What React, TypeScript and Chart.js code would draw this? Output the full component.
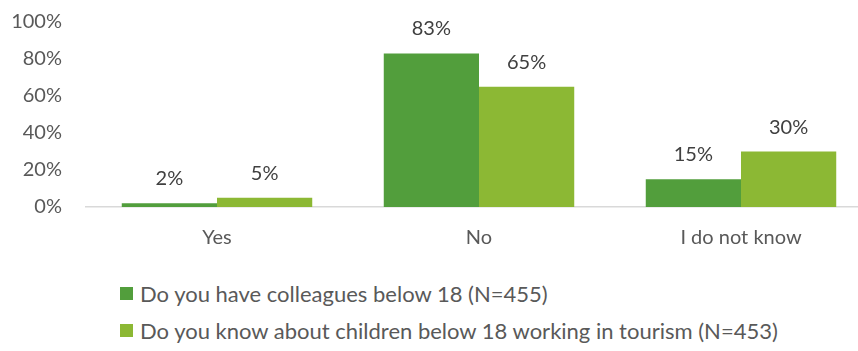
import React, { useEffect, useRef } from "react";
import { Chart, registerables } from "chart.js";

Chart.register(...registerables);

const categories = ["Yes", "No", "I do not know"];
const colleaguesValues = [2, 83, 15];
const childrenValues = [5, 65, 30];
const seriesLabels = [
  "Do you have colleagues below 18 (N=455)",
  "Do you know about children below 18 working in tourism (N=453)",
];
const seriesColors = ["#529e3c", "#8cb834"];
const yTicks = [0, 20, 40, 60, 80, 100];

const FONT = "Lato, 'Open Sans', sans-serif";

const valueLabels = {
  id: "valueLabels",
  afterDatasetsDraw(chart: any) {
    const ctx = chart.ctx;
    ctx.save();
    ctx.font = `20px ${FONT}`;
    ctx.fillStyle = "#404040";
    ctx.textAlign = "center";
    ctx.textBaseline = "alphabetic";
    chart.data.datasets.forEach((ds: any, i: number) => {
      const meta = chart.getDatasetMeta(i);
      meta.data.forEach((bar: any, j: number) => {
        ctx.fillText(ds.data[j] + "%", bar.x, bar.y - 18);
      });
    });
    ctx.restore();
  },
};

export default function App() {
  const ref = useRef<HTMLCanvasElement>(null);
  useEffect(() => {
    if (!ref.current) return;
    const chart = new Chart(ref.current, {
      type: "bar",
      data: {
        labels: categories,
        datasets: [
          {
            label: seriesLabels[0],
            data: colleaguesValues,
            backgroundColor: seriesColors[0],
            barPercentage: 1,
            categoryPercentage: 0.727,
          },
          {
            label: seriesLabels[1],
            data: childrenValues,
            backgroundColor: seriesColors[1],
            barPercentage: 1,
            categoryPercentage: 0.727,
          },
        ],
      },
      options: {
        animation: false,
        responsive: false,
        maintainAspectRatio: false,
        layout: { padding: { top: 22, right: 0, left: 0, bottom: 0 } },
        plugins: {
          legend: { display: false },
          tooltip: { enabled: false },
        },
        scales: {
          x: {
            grid: { display: false, drawTicks: false },
            border: { display: true, color: "#d9d9d9", width: 1.5 },
            ticks: {
              color: "#595959",
              font: { family: FONT, size: 20 },
              padding: 19,
            },
            afterFit(scale: any) {
              scale.height = 53;
              scale.paddingLeft = 0;
              scale.paddingRight = 0;
            },
          },
          y: {
            min: 0,
            max: 100,
            afterBuildTicks(scale: any) {
              scale.ticks = yTicks.map((v) => ({ value: v }));
            },
            grid: { display: false, drawTicks: false },
            border: { display: false },
            ticks: {
              color: "#595959",
              font: { family: FONT, size: 20 },
              padding: 24,
              callback: (v: any) => v + "%",
            },
            afterFit(scale: any) {
              scale.width = 86;
              scale.paddingTop = 0;
              scale.paddingBottom = 0;
            },
          },
        },
      },
      plugins: [valueLabels],
    });
    return () => chart.destroy();
  }, []);

  return (
    <div
      style={{
        position: "fixed",
        left: 0,
        top: 0,
        width: 858,
        height: 351,
        overflow: "hidden",
        background: "#fff",
      }}
    >
      <canvas ref={ref} width={872} height={260} style={{ display: "block" }} />
      <div
        style={{
          position: "absolute",
          left: 120,
          top: 275,
          fontFamily: FONT,
          fontSize: 22,
          color: "#595959",
          lineHeight: "37px",
        }}
      >
        {seriesLabels.map((l, i) => (
          <div key={i} style={{ display: "flex", alignItems: "center", whiteSpace: "nowrap" }}>
            <span
              style={{
                display: "inline-block",
                width: 13,
                height: 13,
                background: seriesColors[i],
                marginRight: 7,
              }}
            />
            <span>{l}</span>
          </div>
        ))}
      </div>
    </div>
  );
}
